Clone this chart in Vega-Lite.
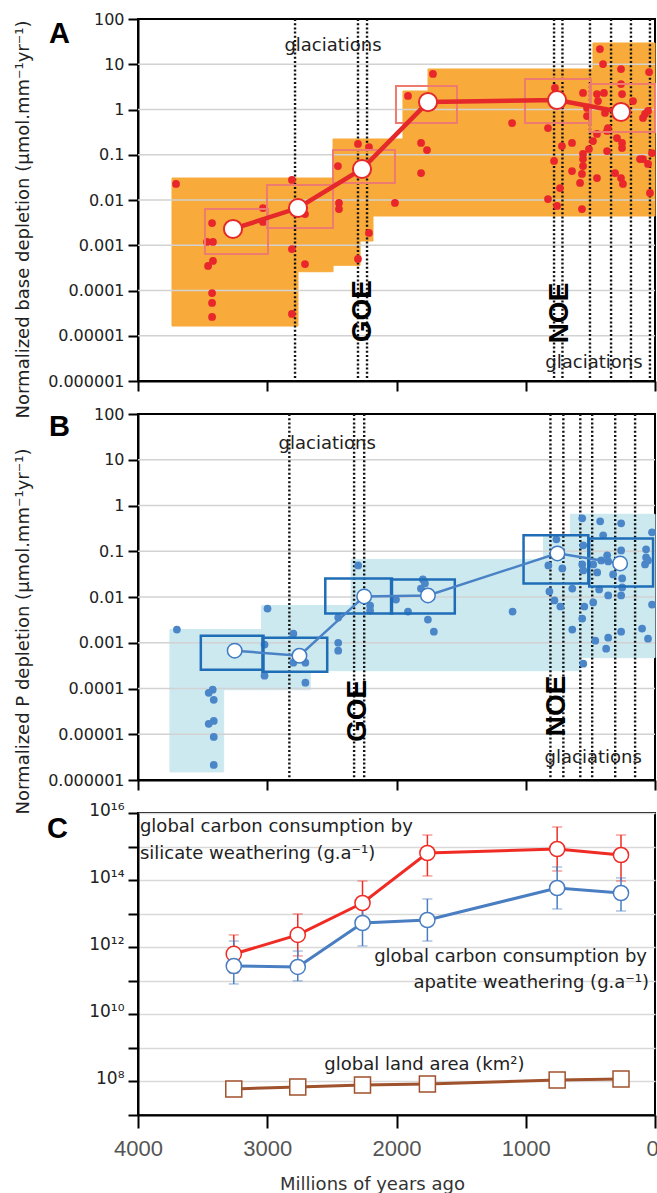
{
  "$schema": "https://vega.github.io/schema/vega-lite/v6.json",
  "padding": {"left": 12, "top": 10, "right": 0, "bottom": 5},
  "spacing": 33,
  "bounds": "flush",
  "datasets": {
    "grid": [{"v": 0.00001}, {"v": 0.0001}, {"v": 0.001}, {"v": 0.01}, {"v": 0.1}, {"v": 1}, {"v": 10}],
    "aArea": [
      {"age": 3737, "age2": 2762, "v": 0.0000164, "v2": 0.0306},
      {"age": 2762, "age2": 2491, "v": 0.00026, "v2": 0.0306},
      {"age": 2491, "age2": 2282, "v": 0.00036, "v2": 0.223},
      {"age": 2282, "age2": 2182, "v": 0.00124, "v2": 0.223},
      {"age": 2182, "age2": 1950, "v": 0.00443, "v2": 0.223},
      {"age": 1950, "age2": 1756, "v": 0.00443, "v2": 2.56},
      {"age": 1756, "age2": 480, "v": 0.00443, "v2": 7.85},
      {"age": 480, "age2": 0, "v": 0.00443, "v2": 29.5}
    ],
    "aLines": [{"age": 2785}, {"age": 2298}, {"age": 2228}, {"age": 781}, {"age": 716}, {"age": 503}, {"age": 340}, {"age": 186}, {"age": 39}],
    "aDots": [
      {"age": 3706, "v": 0.0226}, {"age": 3427, "v": 0.0031}, {"age": 3466, "v": 0.00118}, {"age": 3420, "v": 0.00118},
      {"age": 3458, "v": 0.000348}, {"age": 3420, "v": 0.000449}, {"age": 3427, "v": 0.000088}, {"age": 3427, "v": 0.000053},
      {"age": 3427, "v": 0.000026}, {"age": 3033, "v": 0.00665}, {"age": 3033, "v": 0.00327}, {"age": 2809, "v": 0.0277},
      {"age": 2809, "v": 0.000826}, {"age": 2708, "v": 0.0049}, {"age": 2708, "v": 0.000385}, {"age": 2809, "v": 0.0000303},
      {"age": 2453, "v": 0.0564}, {"age": 2445, "v": 0.0086}, {"age": 2445, "v": 0.0063}, {"age": 2298, "v": 0.173},
      {"age": 2213, "v": 0.148}, {"age": 2213, "v": 0.00187}, {"age": 2298, "v": 0.000497}, {"age": 2012, "v": 0.0086},
      {"age": 1911, "v": 1.99}, {"age": 1718, "v": 6.09}, {"age": 1810, "v": 0.182}, {"age": 1764, "v": 0.127},
      {"age": 1810, "v": 0.0395}, {"age": 1106, "v": 0.503}, {"age": 774, "v": 2.99}, {"age": 828, "v": 0.39},
      {"age": 720, "v": 0.156}, {"age": 642, "v": 0.182}, {"age": 781, "v": 0.0728}, {"age": 642, "v": 0.0437},
      {"age": 735, "v": 0.0184}, {"age": 828, "v": 0.0105}, {"age": 758, "v": 0.0074}, {"age": 565, "v": 0.0063},
      {"age": 557, "v": 2.32}, {"age": 449, "v": 2.2}, {"age": 441, "v": 1.54}, {"age": 526, "v": 1.08},
      {"age": 526, "v": 0.718}, {"age": 557, "v": 0.104}, {"age": 557, "v": 0.0805}, {"age": 557, "v": 0.0564},
      {"age": 565, "v": 0.0376}, {"age": 580, "v": 0.0238}, {"age": 480, "v": 0.201}, {"age": 449, "v": 0.288},
      {"age": 449, "v": 0.0306}, {"age": 371, "v": 0.121}, {"age": 371, "v": 0.335}, {"age": 387, "v": 0.837},
      {"age": 426, "v": 21.7}, {"age": 402, "v": 10.1}, {"age": 263, "v": 7.85}, {"age": 263, "v": 3.66},
      {"age": 46, "v": 6.74}, {"age": 294, "v": 0.234}, {"age": 255, "v": 0.182}, {"age": 255, "v": 0.141},
      {"age": 248, "v": 0.0226}, {"age": 309, "v": 0.0395}, {"age": 93, "v": 0.0805}, {"age": 54, "v": 0.0625},
      {"age": 23, "v": 0.109}, {"age": 39, "v": 0.0143}, {"age": 77, "v": 0.796}, {"age": 93, "v": 0.649},
      {"age": 54, "v": 0.927}, {"age": 395, "v": 2.32}, {"age": 255, "v": 2.2}, {"age": 511, "v": 0.134},
      {"age": 364, "v": 0.39}, {"age": 263, "v": 0.0306}, {"age": 170, "v": 1.54}, {"age": 116, "v": 0.0805}
    ],
    "aBox": [
      {"age": 3482, "age2": 2994, "v": 0.00064, "v2": 0.0063},
      {"age": 3002, "age2": 2491, "v": 0.0024, "v2": 0.0214},
      {"age": 2491, "age2": 2012, "v": 0.0238, "v2": 0.127},
      {"age": 2004, "age2": 1532, "v": 0.503, "v2": 3.31},
      {"age": 1006, "age2": 495, "v": 0.503, "v2": 4.72},
      {"age": 503, "age2": 0, "v": 0.318, "v2": 3.66}
    ],
    "aMed": [
      {"age": 3265, "v": 0.00229}, {"age": 2762, "v": 0.00665}, {"age": 2267, "v": 0.0484},
      {"age": 1756, "v": 1.46}, {"age": 758, "v": 1.62}, {"age": 263, "v": 0.881}
    ],
    "aGlac": [{"age": 2491, "v": 25.3, "t": "glaciations"}, {"age": 472, "v": 0.0000025, "t": "glaciations"}],
    "aEvent": [{"age": 2259, "v": 0.000035, "t": "GOE"}, {"age": 735, "v": 0.0000318, "t": "NOE"}],
    "bArea": [
      {"age": 3753, "age2": 3337, "v": 0.0000015, "v2": 0.00194},
      {"age": 3337, "age2": 3044, "v": 0.000094, "v2": 0.00194},
      {"age": 3044, "age2": 2667, "v": 0.000094, "v2": 0.0065},
      {"age": 2667, "age2": 2351, "v": 0.000245, "v2": 0.0065},
      {"age": 2351, "age2": 863, "v": 0.000245, "v2": 0.0664},
      {"age": 863, "age2": 578, "v": 0.000245, "v2": 0.223},
      {"age": 655, "age2": 0, "v": 0.000472, "v2": 0.643}
    ],
    "bLines": [{"age": 2829}, {"age": 2328}, {"age": 2250}, {"age": 809}, {"age": 709}, {"age": 578}, {"age": 486}, {"age": 308}, {"age": 154}],
    "bDots": [
      {"age": 3699, "v": 0.00194}, {"age": 3422, "v": 0.000094}, {"age": 3453, "v": 0.0000807}, {"age": 3414, "v": 0.0000567},
      {"age": 3414, "v": 0.0000196}, {"age": 3453, "v": 0.0000169}, {"age": 3414, "v": 0.00000875}, {"age": 3414, "v": 0.00000213},
      {"age": 2998, "v": 0.0056}, {"age": 3021, "v": 0.00091}, {"age": 3021, "v": 0.00019}, {"age": 2798, "v": 0.00158},
      {"age": 2798, "v": 0.000367}, {"age": 2705, "v": 0.000367}, {"age": 2705, "v": 0.000134}, {"age": 2451, "v": 0.00356},
      {"age": 2451, "v": 0.001}, {"age": 2451, "v": 0.00067}, {"age": 2297, "v": 0.049}, {"age": 2204, "v": 0.0065},
      {"age": 2204, "v": 0.00506}, {"age": 2004, "v": 0.0088}, {"age": 1911, "v": 0.00481}, {"age": 1796, "v": 0.0242},
      {"age": 1780, "v": 0.0198}, {"age": 1811, "v": 0.0153}, {"age": 1757, "v": 0.00321}, {"age": 1711, "v": 0.00175},
      {"age": 1102, "v": 0.00481}, {"age": 817, "v": 0.0132}, {"age": 778, "v": 0.0084}, {"age": 732, "v": 0.0062},
      {"age": 717, "v": 0.0422}, {"age": 825, "v": 0.049}, {"age": 763, "v": 0.182}, {"age": 640, "v": 0.0153},
      {"age": 640, "v": 0.00194}, {"age": 563, "v": 0.526}, {"age": 555, "v": 0.135}, {"age": 563, "v": 0.0516},
      {"age": 555, "v": 0.0381}, {"age": 547, "v": 0.0062}, {"age": 563, "v": 0.00338}, {"age": 555, "v": 0.000349},
      {"age": 478, "v": 0.0076}, {"age": 462, "v": 0.00111}, {"age": 424, "v": 0.452}, {"age": 401, "v": 0.223},
      {"age": 432, "v": 0.0146}, {"age": 416, "v": 0.063}, {"age": 370, "v": 0.0813}, {"age": 362, "v": 0.06},
      {"age": 324, "v": 0.0311}, {"age": 378, "v": 0.000743}, {"age": 362, "v": 0.00129}, {"age": 362, "v": 0.0108},
      {"age": 262, "v": 0.408}, {"age": 262, "v": 0.104}, {"age": 254, "v": 0.0254}, {"age": 254, "v": 0.0162},
      {"age": 262, "v": 0.0108}, {"age": 262, "v": 0.00175}, {"age": 100, "v": 0.00204}, {"age": 54, "v": 0.00123},
      {"age": 77, "v": 0.0516}, {"age": 69, "v": 0.0734}, {"age": 54, "v": 0.063}, {"age": 69, "v": 0.11},
      {"age": 23, "v": 0.259}, {"age": 23, "v": 0.00685}, {"age": 447, "v": 0.0344}, {"age": 478, "v": 0.0516}
    ],
    "bBox": [
      {"age": 3514, "age2": 3029, "v": 0.000258, "v2": 0.00143},
      {"age": 3037, "age2": 2536, "v": 0.000233, "v2": 0.00129},
      {"age": 2551, "age2": 2035, "v": 0.00435, "v2": 0.0254},
      {"age": 2042, "age2": 1549, "v": 0.00435, "v2": 0.0242},
      {"age": 1017, "age2": 516, "v": 0.0198, "v2": 0.223},
      {"age": 509, "age2": 15, "v": 0.017, "v2": 0.191}
    ],
    "bMed": [
      {"age": 3252, "v": 0.00067}, {"age": 2751, "v": 0.00052}, {"age": 2250, "v": 0.0103},
      {"age": 1757, "v": 0.0108}, {"age": 755, "v": 0.0898}, {"age": 270, "v": 0.0542}
    ],
    "bGlac": [{"age": 2536, "v": 22, "t": "glaciations"}, {"age": 478, "v": 0.00000303, "t": "glaciations"}],
    "bEvent": [{"age": 2297, "v": 0.0000325, "t": "GOE"}, {"age": 755, "v": 0.0000419, "t": "NOE"}],
    "cData": [
      {"age": 3259, "sil": 6.3e11, "silLo": 1.7e11, "silHi": 2.32e12, "apa": 2.76e11, "apaLo": 8.03e10, "apaHi": 1.53e12, "land": 5.97e7},
      {"age": 2764, "sil": 2.32e12, "silLo": 5.5e11, "silHi": 9.8e12, "apa": 2.58e11, "apaLo": 9.9e10, "apaHi": 7.7e11, "land": 6.86e7},
      {"age": 2263, "sil": 2.08e13, "silLo": 4.6e12, "silHi": 9.4e13, "apa": 5.27e12, "apaLo": 1.09e12, "apaHi": 2.23e13, "land": 7.86e7},
      {"age": 1761, "sil": 6.43e14, "silLo": 1.33e14, "silHi": 2.21e15, "apa": 6.48e12, "apaLo": 1.53e12, "apaHi": 2.74e13, "land": 8.41e7},
      {"age": 757, "sil": 8.46e14, "silLo": 1.87e14, "silHi": 3.83e15, "apa": 5.82e13, "apaLo": 1.38e13, "apaHi": 2.46e14, "land": 1.11e8},
      {"age": 263, "sil": 5.6e14, "silLo": 9.4e13, "silHi": 2.21e15, "apa": 4.13e13, "apaLo": 1.2e13, "apaHi": 1.16e14, "land": 1.19e8}
    ],
    "cTextL": [{"age": 3985, "v": 3.83e15, "t": "global carbon consumption by"}, {"age": 3985, "v": 6.0e14, "t": "silicate weathering (g.a⁻¹)"}],
    "cTextR": [{"age": 62, "v": 5.12e11, "t": "global carbon consumption by"}, {"age": 46, "v": 8.6e10, "t": "apatite weathering (g.a⁻¹)"}],
    "cTextC": [{"age": 1784, "v": 3.1e8, "t": "global land area (km²)"}]
  },
  "vconcat": [
    {
      "width": 517,
      "height": 362,
      "title": {"text": "A", "anchor": "start", "frame": "group", "orient": "top", "offset": 0, "dx": -89, "dy": 38, "baseline": "top", "fontSize": 29, "fontWeight": "bold", "font": "Liberation Sans", "color": "black"},
      "layer": [
        {
          "data": {"name": "aArea"},
          "mark": {"type": "rect", "color": "#F8AB3B", "stroke": "#F8AB3B", "strokeWidth": 1},
          "encoding": {
            "x": {"field": "age", "type": "quantitative", "scale": {"domain": [4000, 0], "nice": false, "zero": false},
                  "axis": {"values": [4000, 3000, 2000, 1000, 0], "labels": false, "title": null}},
            "x2": {"field": "age2"},
            "y": {"field": "v", "type": "quantitative", "scale": {"type": "log", "domain": [0.000001, 100], "nice": false},
                  "axis": {"values": [0.000001, 0.00001, 0.0001, 0.001, 0.01, 0.1, 1, 10, 100], "format": ".6~f",
                           "title": "Normalized base depletion (µmol.mm⁻¹yr⁻¹)", "titleX": -115, "titleY": 200, "titleBaseline": "middle", "titleAngle": 270, "titleAlign": "center"}},
            "y2": {"field": "v2"}
          }
        },
        {
          "data": {"name": "grid"},
          "mark": {"type": "rule", "color": "#d2d2d2", "strokeWidth": 1.5},
          "encoding": {"y": {"field": "v", "type": "quantitative"}}
        },
        {
          "data": {"name": "aLines"},
          "mark": {"type": "rule", "color": "#111", "strokeWidth": 2.4, "strokeDash": [2, 2.2]},
          "encoding": {"x": {"field": "age", "type": "quantitative"}}
        },
        {
          "data": {"name": "aDots"},
          "mark": {"type": "circle", "color": "#E8262B", "size": 60, "opacity": 1},
          "encoding": {"x": {"field": "age", "type": "quantitative"}, "y": {"field": "v", "type": "quantitative"}}
        },
        {
          "data": {"name": "aBox"},
          "mark": {"type": "rect", "fill": null, "fillOpacity": 0, "stroke": "#EE7B70", "strokeWidth": 2},
          "encoding": {"x": {"field": "age", "type": "quantitative"}, "x2": {"field": "age2"}, "y": {"field": "v", "type": "quantitative"}, "y2": {"field": "v2"}}
        },
        {
          "data": {"name": "aMed"},
          "mark": {"type": "line", "color": "#E5282A", "strokeWidth": 4.5},
          "encoding": {"x": {"field": "age", "type": "quantitative"}, "y": {"field": "v", "type": "quantitative"}}
        },
        {
          "data": {"name": "aMed"},
          "mark": {"type": "point", "shape": "circle", "filled": true, "fill": "white", "stroke": "#E5282A", "strokeWidth": 2, "size": 330, "opacity": 1},
          "encoding": {"x": {"field": "age", "type": "quantitative"}, "y": {"field": "v", "type": "quantitative"}}
        },
        {
          "data": {"name": "aGlac"},
          "mark": {"type": "text", "fontSize": 18, "color": "#222", "align": "center", "baseline": "middle"},
          "encoding": {"x": {"field": "age", "type": "quantitative"}, "y": {"field": "v", "type": "quantitative"}, "text": {"field": "t"}}
        },
        {
          "data": {"name": "aEvent"},
          "mark": {"type": "text", "fontSize": 28, "font": "Liberation Sans", "fontWeight": "bold", "color": "black", "angle": 270, "align": "center", "baseline": "middle"},
          "encoding": {"x": {"field": "age", "type": "quantitative"}, "y": {"field": "v", "type": "quantitative"}, "text": {"field": "t"}}
        }
      ]
    },
    {
      "width": 517,
      "height": 366,
      "title": {"text": "B", "anchor": "start", "frame": "group", "orient": "top", "offset": 0, "dx": -89, "dy": 36, "baseline": "top", "fontSize": 29, "fontWeight": "bold", "font": "Liberation Sans", "color": "black"},
      "layer": [
        {
          "data": {"name": "bArea"},
          "mark": {"type": "rect", "color": "#CCE9F0", "stroke": "#CCE9F0", "strokeWidth": 1},
          "encoding": {
            "x": {"field": "age", "type": "quantitative", "scale": {"domain": [4000, 0], "nice": false, "zero": false},
                  "axis": {"values": [4000, 3000, 2000, 1000, 0], "labels": false, "title": null}},
            "x2": {"field": "age2"},
            "y": {"field": "v", "type": "quantitative", "scale": {"type": "log", "domain": [0.000001, 100], "nice": false},
                  "axis": {"values": [0.000001, 0.00001, 0.0001, 0.001, 0.01, 0.1, 1, 10, 100], "format": ".6~f",
                           "title": "Normalized P depletion (µmol.mm⁻¹yr⁻¹)", "titleX": -115, "titleY": 217, "titleBaseline": "middle", "titleAngle": 270, "titleAlign": "center"}},
            "y2": {"field": "v2"}
          }
        },
        {
          "data": {"name": "grid"},
          "mark": {"type": "rule", "color": "#d2d2d2", "strokeWidth": 1.5},
          "encoding": {"y": {"field": "v", "type": "quantitative"}}
        },
        {
          "data": {"name": "bLines"},
          "mark": {"type": "rule", "color": "#111", "strokeWidth": 2.4, "strokeDash": [2, 2.2]},
          "encoding": {"x": {"field": "age", "type": "quantitative"}}
        },
        {
          "data": {"name": "bDots"},
          "mark": {"type": "circle", "color": "#4A86C8", "size": 60, "opacity": 1},
          "encoding": {"x": {"field": "age", "type": "quantitative"}, "y": {"field": "v", "type": "quantitative"}}
        },
        {
          "data": {"name": "bBox"},
          "mark": {"type": "rect", "fill": null, "fillOpacity": 0, "stroke": "#1F6DB6", "strokeWidth": 2.5},
          "encoding": {"x": {"field": "age", "type": "quantitative"}, "x2": {"field": "age2"}, "y": {"field": "v", "type": "quantitative"}, "y2": {"field": "v2"}}
        },
        {
          "data": {"name": "bMed"},
          "mark": {"type": "line", "color": "#4A82C6", "strokeWidth": 2.5},
          "encoding": {"x": {"field": "age", "type": "quantitative"}, "y": {"field": "v", "type": "quantitative"}}
        },
        {
          "data": {"name": "bMed"},
          "mark": {"type": "point", "shape": "circle", "filled": true, "fill": "white", "stroke": "#3E7BC4", "strokeWidth": 1.5, "size": 210, "opacity": 1},
          "encoding": {"x": {"field": "age", "type": "quantitative"}, "y": {"field": "v", "type": "quantitative"}}
        },
        {
          "data": {"name": "bGlac"},
          "mark": {"type": "text", "fontSize": 18, "color": "#222", "align": "center", "baseline": "middle"},
          "encoding": {"x": {"field": "age", "type": "quantitative"}, "y": {"field": "v", "type": "quantitative"}, "text": {"field": "t"}}
        },
        {
          "data": {"name": "bEvent"},
          "mark": {"type": "text", "fontSize": 28, "font": "Liberation Sans", "fontWeight": "bold", "color": "black", "angle": 270, "align": "center", "baseline": "middle"},
          "encoding": {"x": {"field": "age", "type": "quantitative"}, "y": {"field": "v", "type": "quantitative"}, "text": {"field": "t"}}
        }
      ]
    },
    {
      "width": 517,
      "height": 302,
      "title": {"text": "C", "anchor": "start", "frame": "group", "orient": "top", "offset": 0, "dx": -91, "dy": 43, "baseline": "top", "fontSize": 29, "fontWeight": "bold", "font": "Liberation Sans", "color": "black"},
      "layer": [
        {
          "data": {"name": "cData"},
          "mark": {"type": "line", "color": "#A0522D", "strokeWidth": 3},
          "encoding": {
            "x": {"field": "age", "type": "quantitative", "scale": {"domain": [4000, 0], "nice": false, "zero": false},
                  "axis": {"values": [4000, 3000, 2000, 1000, 0], "format": "d", "labelFontSize": 22, "labelFont": "Liberation Sans", "labelColor": "#555", "tickSize": 13, "labelPadding": 10,
                           "labelOffset": {"condition": {"test": "datum.value == 0", "value": -3}, "value": 0},
                           "title": "Millions of years ago", "titleFontSize": 18, "titleColor": "#333", "titleX": 234, "titleY": 69, "titleBaseline": "middle"}},
            "y": {"field": "land", "type": "quantitative", "scale": {"type": "log", "domain": [10000000, 10000000000000000], "nice": false},
                  "axis": {"values": [10000000, 100000000, 1000000000, 10000000000, 100000000000, 1000000000000, 10000000000000, 100000000000000, 1000000000000000, 10000000000000000],
                           "grid": true, "gridColor": "#d9d9d9", "gridWidth": 1.5, "labelFontSize": 17, "labelBaseline": "middle", "labelOffset": -3,
                           "labelExpr": "datum.value == 100000000 ? '10⁸' : datum.value == 10000000000 ? '10¹⁰' : datum.value == 1000000000000 ? '10¹²' : datum.value == 100000000000000 ? '10¹⁴' : datum.value == 10000000000000000 ? '10¹⁶' : ''",
                           "title": null}}
          }
        },
        {
          "data": {"name": "cData"},
          "mark": {"type": "line", "color": "#EF2B24", "strokeWidth": 3},
          "encoding": {"x": {"field": "age", "type": "quantitative"}, "y": {"field": "sil", "type": "quantitative"}}
        },
        {
          "data": {"name": "cData"},
          "mark": {"type": "line", "color": "#4A7EC2", "strokeWidth": 3},
          "encoding": {"x": {"field": "age", "type": "quantitative"}, "y": {"field": "apa", "type": "quantitative"}}
        },
        {
          "data": {"name": "cData"},
          "mark": {"type": "errorbar", "color": "#EF2B24", "ticks": {"size": 10, "strokeWidth": 1.5}, "rule": {"strokeWidth": 1.5}},
          "encoding": {"x": {"field": "age", "type": "quantitative"}, "y": {"field": "silLo", "type": "quantitative"}, "y2": {"field": "silHi"}}
        },
        {
          "data": {"name": "cData"},
          "mark": {"type": "errorbar", "color": "#4A7EC2", "ticks": {"size": 10, "strokeWidth": 1.5}, "rule": {"strokeWidth": 1.5}},
          "encoding": {"x": {"field": "age", "type": "quantitative"}, "y": {"field": "apaLo", "type": "quantitative"}, "y2": {"field": "apaHi"}}
        },
        {
          "data": {"name": "cData"},
          "mark": {"type": "point", "shape": "circle", "filled": true, "fill": "white", "stroke": "#EF2B24", "strokeWidth": 1.5, "size": 230, "opacity": 1},
          "encoding": {"x": {"field": "age", "type": "quantitative"}, "y": {"field": "sil", "type": "quantitative"}}
        },
        {
          "data": {"name": "cData"},
          "mark": {"type": "point", "shape": "circle", "filled": true, "fill": "white", "stroke": "#4A7EC2", "strokeWidth": 1.5, "size": 230, "opacity": 1},
          "encoding": {"x": {"field": "age", "type": "quantitative"}, "y": {"field": "apa", "type": "quantitative"}}
        },
        {
          "data": {"name": "cData"},
          "mark": {"type": "point", "shape": "square", "filled": true, "fill": "white", "stroke": "#A0522D", "strokeWidth": 1.5, "size": 256, "opacity": 1},
          "encoding": {"x": {"field": "age", "type": "quantitative"}, "y": {"field": "land", "type": "quantitative"}}
        },
        {
          "data": {"name": "cTextL"},
          "mark": {"type": "text", "fontSize": 18, "color": "#222", "align": "left", "baseline": "middle"},
          "encoding": {"x": {"field": "age", "type": "quantitative"}, "y": {"field": "v", "type": "quantitative"}, "text": {"field": "t"}}
        },
        {
          "data": {"name": "cTextR"},
          "mark": {"type": "text", "fontSize": 18, "color": "#222", "align": "right", "baseline": "middle"},
          "encoding": {"x": {"field": "age", "type": "quantitative"}, "y": {"field": "v", "type": "quantitative"}, "text": {"field": "t"}}
        },
        {
          "data": {"name": "cTextC"},
          "mark": {"type": "text", "fontSize": 18, "color": "#222", "align": "center", "baseline": "middle"},
          "encoding": {"x": {"field": "age", "type": "quantitative"}, "y": {"field": "v", "type": "quantitative"}, "text": {"field": "t"}}
        }
      ]
    }
  ],
  "config": {
    "font": "DejaVu Sans",
    "view": {"stroke": "black", "strokeWidth": 2},
    "axis": {"domainColor": "black", "domainWidth": 2, "tickColor": "black", "tickWidth": 2, "tickSize": 10, "grid": false,
             "labelColor": "#222", "labelFontSize": 16, "labelFont": "DejaVu Sans", "labelPadding": 4, "titleFont": "DejaVu Sans",
             "titleFontWeight": "normal", "titleColor": "#222", "titleFontSize": 18, "labelOverlap": false, "labelFlush": false}
  }
}
